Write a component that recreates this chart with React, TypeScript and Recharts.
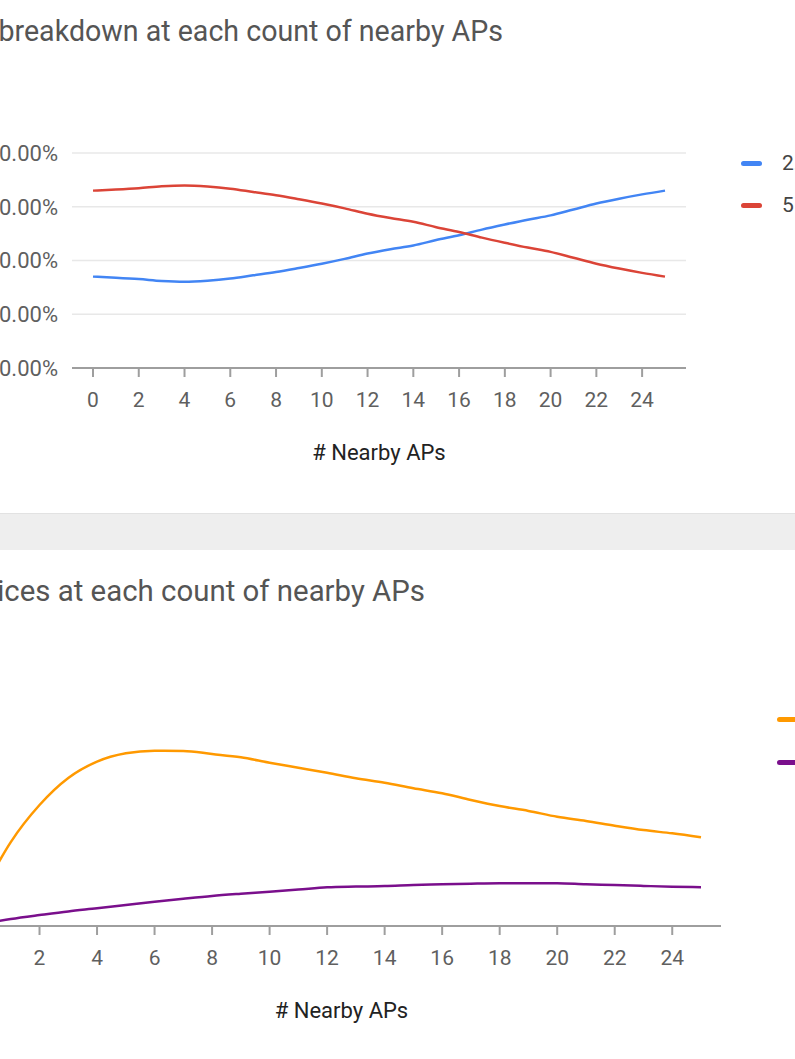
import React from "react";
import { CartesianGrid, Line, LineChart, XAxis, YAxis } from "recharts";

// # nearby APs (0..25)
const apCounts = [
  0, 1, 2, 3, 4, 5, 6, 7, 8, 9, 10, 11, 12, 13, 14, 15, 16, 17, 18, 19, 20, 21, 22, 23, 24, 25,
];
const xTicks = [0, 2, 4, 6, 8, 10, 12, 14, 16, 18, 20, 22, 24];

// band breakdown, % of devices
const band24 = [
  34.0, 33.6, 33.1, 32.4, 32.1, 32.5, 33.3, 34.5, 35.7, 37.2, 38.8, 40.6, 42.6, 44.2, 45.6, 47.6,
  49.4, 51.5, 53.4, 55.2, 56.8, 59.0, 61.2, 63.0, 64.6, 66.0,
];
const band5 = [
  66.0, 66.4, 66.9, 67.6, 67.9, 67.5, 66.7, 65.5, 64.3, 62.8, 61.2, 59.4, 57.4, 55.8, 54.4, 52.4,
  50.6, 48.5, 46.6, 44.8, 43.2, 41.0, 38.8, 37.0, 35.4, 34.0,
];
const bandTicks = [0, 20, 40, 60, 80];

// devices at each count
const allDevices = [
  15.1, 38.5, 55.5, 67.9, 75.4, 79.2, 80.4, 80.3, 78.9, 77.4, 74.9, 72.6, 70.3, 67.8, 65.7, 63.2,
  60.9, 57.8, 55.0, 52.8, 50.1, 48.2, 46.0, 44.0, 42.5, 40.7,
];
const dualBand = [
  1.1, 3.2, 5.0, 6.7, 8.1, 9.6, 11.1, 12.5, 13.8, 14.8, 15.7, 16.7, 17.8, 18.1, 18.3, 18.8, 19.1,
  19.4, 19.6, 19.6, 19.6, 19.1, 18.8, 18.4, 18.0, 17.8,
];

const bandSeries = [
  { key: "b24", label: "2.4 GHz", color: "#4285f4" },
  { key: "b5", label: "5 GHz", color: "#db4437" },
];
const deviceSeries = [
  { key: "all", label: "All devices", color: "#ff9900" },
  { key: "dual", label: "Dual-band devices", color: "#7a0f8c" },
];

const bandData = apCounts.map((n, i) => ({ n, b24: band24[i], b5: band5[i] }));
const deviceData = apCounts.map((n, i) => ({ n, all: allDevices[i], dual: dualBand[i] }));

const FONT = "Roboto, 'Noto Sans', sans-serif";
const tickStyle = { fontSize: 21, fill: "#5f5f5f", fontFamily: FONT };
const axisStroke = "#9e9e9e";

type Item = { key: string; color: string; label: string };

function SideLegend({ items, left, top, gap }: { items: Item[]; left: number; top: number; gap: number }) {
  return (
    <div style={{ position: "absolute", left, top, fontFamily: FONT }}>
      {items.map((it) => (
        <div
          key={it.key}
          style={{ display: "flex", alignItems: "center", height: 24, marginBottom: gap - 24 }}
        >
          <span
            style={{
              display: "inline-block",
              width: 21,
              height: 5,
              borderRadius: 3,
              background: it.color,
              marginRight: 20,
            }}
          />
          <span style={{ fontSize: 21, color: "#444", whiteSpace: "nowrap" }}>{it.label}</span>
        </div>
      ))}
    </div>
  );
}

const titleStyle: React.CSSProperties = {
  position: "absolute",
  fontFamily: FONT,
  lineHeight: "28px",
  color: "#555",
  whiteSpace: "nowrap",
};

const xAxisProps = {
  dataKey: "n",
  type: "number" as const,
  domain: [0, 25],
  ticks: xTicks,
  interval: 0,
  height: 100,
  stroke: axisStroke,
  strokeWidth: 2,
  tickSize: 9,
  tickMargin: 15,
  tick: tickStyle,
  label: {
    value: "# Nearby APs",
    position: "insideBottom" as const,
    offset: 8,
    style: { fontSize: 22, fill: "#222", fontFamily: FONT },
  },
};

export default function App() {
  return (
    <div
      style={{
        position: "fixed",
        left: 0,
        top: 0,
        width: 795,
        height: 1059,
        overflow: "hidden",
        background: "#fff",
      }}
    >
      <div style={{ ...titleStyle, fontSize: 28.6, right: 795 - 503, top: 17 }}>
        Band breakdown at each count of nearby APs
      </div>

      <div style={{ position: "absolute", left: 0, top: 0 }}>
        <LineChart
          width={900}
          height={512}
          data={bandData}
          margin={{ top: 153, right: 214, bottom: 44, left: 0 }}
        >
          <CartesianGrid horizontal vertical={false} stroke="#e8e8e8" strokeWidth={1.5} />
          <XAxis {...xAxisProps} padding={{ left: 21, right: 21 }} />
          <YAxis
            width={72}
            domain={[0, 80]}
            ticks={bandTicks}
            axisLine={false}
            tickLine={false}
            tickSize={0}
            tickMargin={14}
            tick={{ ...tickStyle, fontSize: 22 }}
            tickFormatter={(v: number) => `${v.toFixed(2)}%`}
          />
          {bandSeries.map((s) => (
            <Line
              key={s.key}
              type="monotone"
              dataKey={s.key}
              name={s.label}
              stroke={s.color}
              strokeWidth={2.5}
              dot={false}
              activeDot={false}
              isAnimationActive={false}
            />
          ))}
        </LineChart>
      </div>
      <SideLegend items={bandSeries} left={741} top={151} gap={42} />

      <div
        style={{
          position: "absolute",
          left: 0,
          top: 513,
          width: 795,
          height: 37,
          background: "#eeeeee",
          borderTop: "1px solid #e2e2e2",
          boxSizing: "border-box",
        }}
      />

      <div style={{ ...titleStyle, fontSize: 29.4, right: 795 - 425, top: 577 }}>
        Devices at each count of nearby APs
      </div>

      <div style={{ position: "absolute", left: -150, top: 550 }}>
        <LineChart
          width={1000}
          height={509}
          data={deviceData}
          margin={{ top: 158, right: 129, bottom: 33, left: 112 }}
        >
          <XAxis {...xAxisProps} padding={{ left: 20, right: 20 }} />
          <YAxis hide domain={[0, 100]} />
          {deviceSeries.map((s) => (
            <Line
              key={s.key}
              type="monotone"
              dataKey={s.key}
              name={s.label}
              stroke={s.color}
              strokeWidth={2.5}
              dot={false}
              activeDot={false}
              isAnimationActive={false}
            />
          ))}
        </LineChart>
      </div>
      <SideLegend items={deviceSeries} left={777} top={707} gap={43} />
    </div>
  );
}
